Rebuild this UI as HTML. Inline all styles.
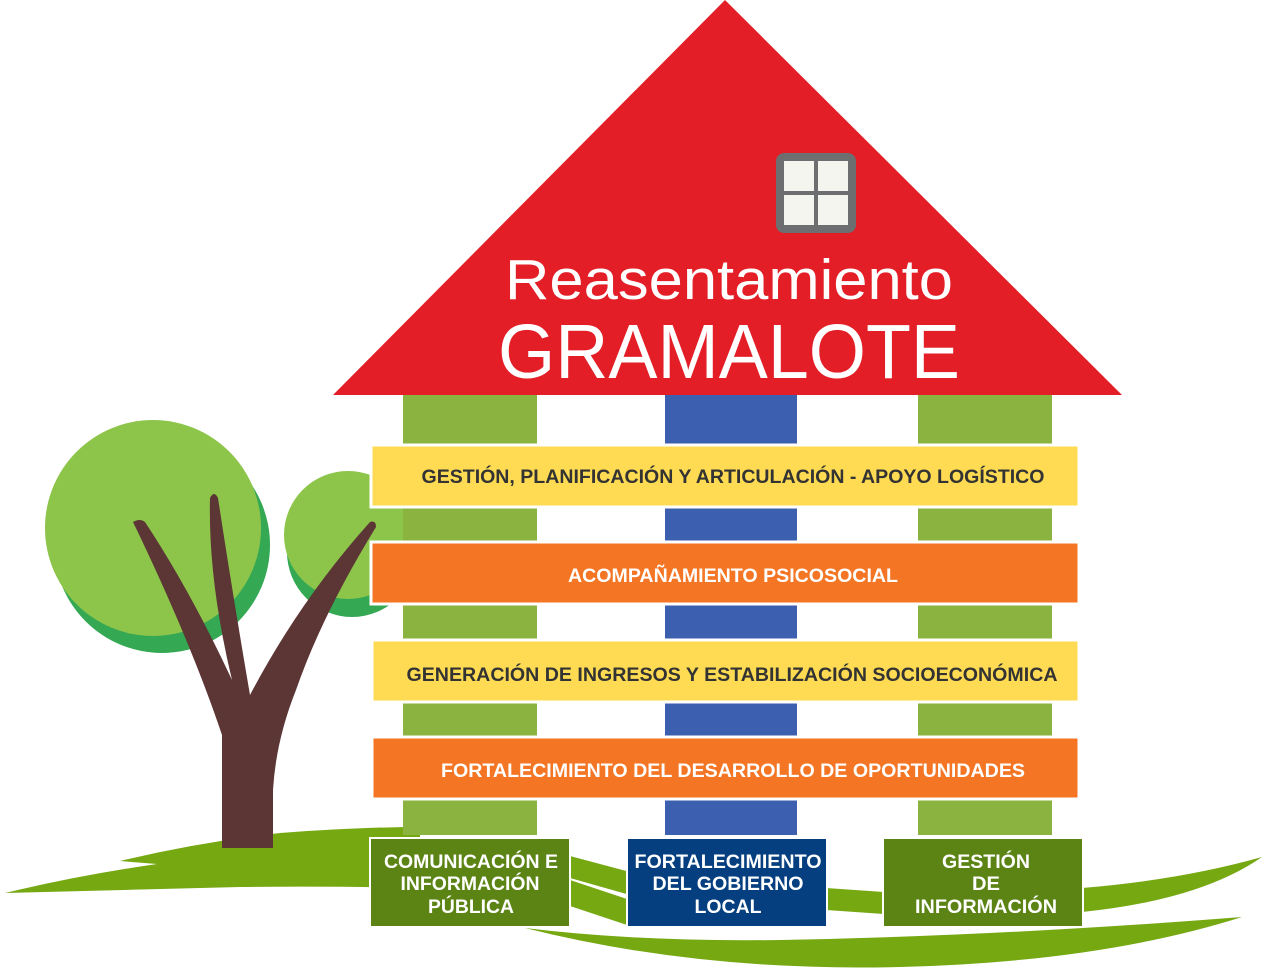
<!DOCTYPE html>
<html><head><meta charset="utf-8"><style>
html,body{margin:0;padding:0;background:#fff}
svg{display:block}
</style></head><body>
<svg width="1266" height="970" viewBox="0 0 1266 970" xmlns="http://www.w3.org/2000/svg" font-family="Liberation Sans, sans-serif" font-weight="bold">
<circle cx="162" cy="545" r="108" fill="#34a853"/>
<circle cx="153" cy="528" r="108" fill="#8dc54b"/>
<circle cx="352" cy="552" r="65" fill="#34a853"/>
<circle cx="348" cy="535" r="64" fill="#8dc54b"/>
<path d="M5,893 Q80,875 157,864 L120,861 Q200,842 280,833 Q360,827 420,827 L420,888 Q330,886 240,887 Q120,890 5,893 Z" fill="#76a812"/>
<path d="M222,848 L222,735 Q190,640 133,522 Q140,518 145,522 Q190,590 232,680 Q208,580 210,498 Q214,490 218,498 Q232,590 250,695 Q300,600 370,522 Q376,520 376,527 Q322,615 296,690 Q276,740 273,790 L273,848 Z" fill="#5c3535"/>
<polygon points="725,0 333,395 1122,395" fill="#e31e26"/>
<rect x="776" y="153" width="80" height="80" rx="8" fill="#6d6e70"/>
<rect x="784" y="161" width="30" height="30" fill="#f5f5f0"/>
<rect x="818" y="161" width="30" height="30" fill="#f5f5f0"/>
<rect x="784" y="195" width="30" height="30" fill="#f5f5f0"/>
<rect x="818" y="195" width="30" height="30" fill="#f5f5f0"/>
<text x="729" y="299" fill="#fff" font-weight="normal" font-size="57" text-anchor="middle" textLength="448" lengthAdjust="spacingAndGlyphs">Reasentamiento</text>
<text x="729" y="378" fill="#fff" font-weight="normal" font-size="77" text-anchor="middle" textLength="462" lengthAdjust="spacingAndGlyphs">GRAMALOTE</text>
<g fill="#8bb33f">
<rect x="403" y="395" width="134" height="440"/>
<rect x="918" y="395" width="134" height="440"/>
</g>
<rect x="665" y="395" width="132" height="440" fill="#3c5fb0"/>
<g stroke="#fff" stroke-width="3">
<rect x="371" y="445" width="708" height="62" fill="#fedb52"/>
<rect x="371" y="542" width="708" height="62" fill="#f47625"/>
<rect x="372" y="640" width="707" height="62" fill="#fedb52"/>
<rect x="372" y="737" width="707" height="62" fill="#f47625"/>
</g>
<g font-size="19">
<text x="733" y="483" fill="#333" text-anchor="middle" textLength="623" lengthAdjust="spacingAndGlyphs">GESTIÓN, PLANIFICACIÓN Y ARTICULACIÓN - APOYO LOGÍSTICO</text>
<text x="733" y="582" fill="#fff" text-anchor="middle" textLength="330" lengthAdjust="spacingAndGlyphs">ACOMPAÑAMIENTO PSICOSOCIAL</text>
<text x="732" y="681" fill="#333" text-anchor="middle" textLength="651" lengthAdjust="spacingAndGlyphs">GENERACIÓN DE INGRESOS Y ESTABILIZACIÓN SOCIOECONÓMICA</text>
<text x="733" y="777" fill="#fff" text-anchor="middle" textLength="584" lengthAdjust="spacingAndGlyphs">FORTALECIMIENTO DEL DESARROLLO DE OPORTUNIDADES</text>
</g>
<g fill="#76a812">
<path d="M570,856 L630,872 L630,895 L570,878 Z"/>
<path d="M570,880 L630,900 L630,926 L570,906 Z"/>
<path d="M826,888 L884,892 L884,914 L826,910 Z"/>
<path d="M1082,888 Q1180,880 1262,857 Q1200,900 1082,912 Z"/>
<path d="M525,928 Q640,942 780,940 Q1000,936 1242,917 Q1100,962 900,967 Q700,972 525,928 Z"/>
</g>
<g stroke="#fff" stroke-width="2">
<rect x="370" y="838" width="200" height="89" fill="#5b8415"/>
<rect x="627" y="838" width="200" height="89" fill="#053f7f"/>
<rect x="883" y="838" width="200" height="89" fill="#5b8415"/>
</g>
<g font-size="19" fill="#fff" text-anchor="middle">
<text x="471" y="868" textLength="174" lengthAdjust="spacingAndGlyphs">COMUNICACIÓN E</text>
<text x="470" y="890" textLength="139" lengthAdjust="spacingAndGlyphs">INFORMACIÓN</text>
<text x="471" y="913" textLength="86" lengthAdjust="spacingAndGlyphs">PÚBLICA</text>
<text x="728" y="868" textLength="187" lengthAdjust="spacingAndGlyphs">FORTALECIMIENTO</text>
<text x="728" y="890" textLength="151" lengthAdjust="spacingAndGlyphs">DEL GOBIERNO</text>
<text x="728" y="913" textLength="67" lengthAdjust="spacingAndGlyphs">LOCAL</text>
<text x="986" y="868" textLength="88" lengthAdjust="spacingAndGlyphs">GESTIÓN</text>
<text x="986" y="890" textLength="28" lengthAdjust="spacingAndGlyphs">DE</text>
<text x="986" y="913" textLength="142" lengthAdjust="spacingAndGlyphs">INFORMACIÓN</text>
</g>
</svg>
</body></html>
